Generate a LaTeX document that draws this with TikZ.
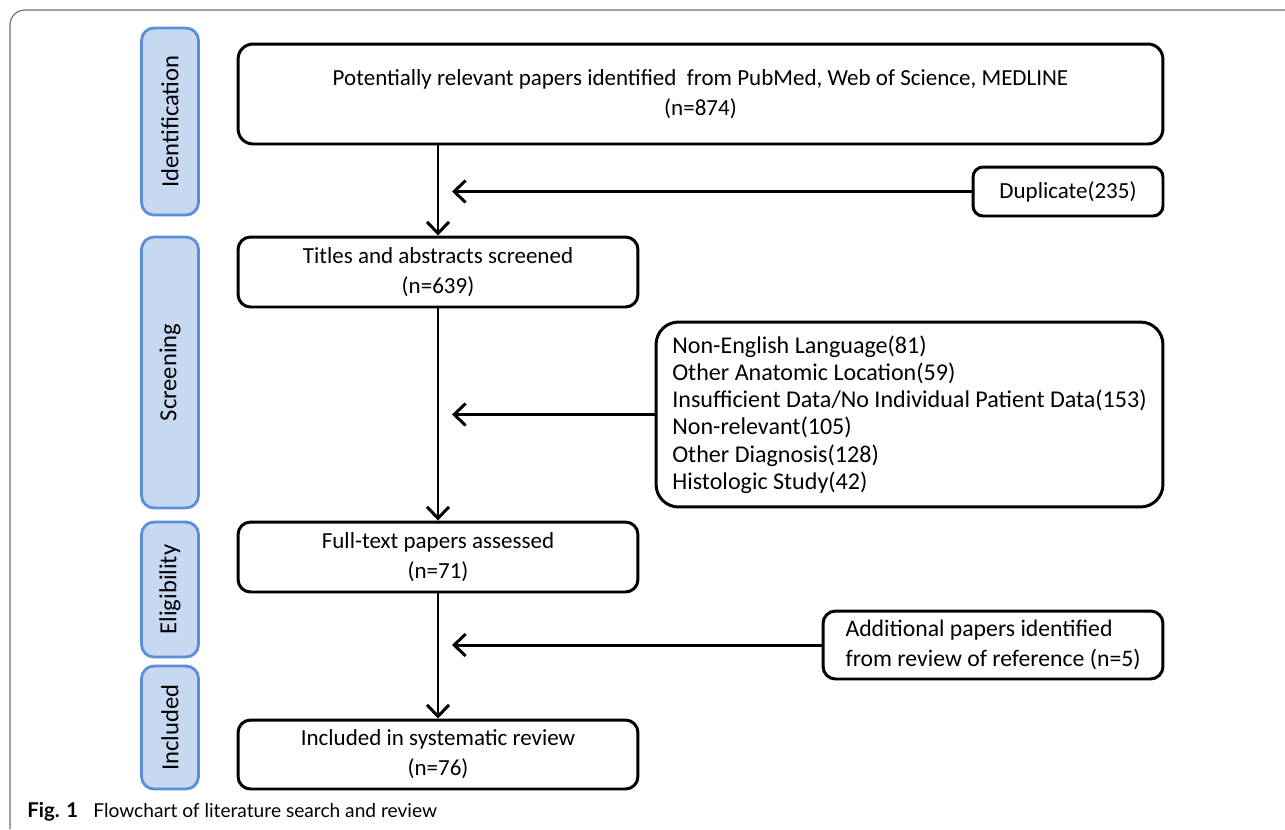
\documentclass[tikz,border=0pt]{standalone}
\usepackage{fontspec}
\setmainfont{Carlito}
\newfontfamily\capfont{Lato}
\usetikzlibrary{arrows.meta, positioning}
\definecolor{stagefill}{HTML}{C6D9F1}
\definecolor{stagedraw}{HTML}{5B8FD7}
\definecolor{framegray}{HTML}{707070}

\begin{document}
\begin{tikzpicture}[
    x=0.02cm, y=-0.02cm,
    every node/.style={font=\fontsize{13.1}{17}\selectfont},
    box/.style={
        rectangle,
        rounded corners=0.3cm,
        draw=black,
        fill=white,
        line width=1.7pt,
        align=center,
        inner sep=0pt
    },
    stage/.style={
        rectangle,
        rounded corners=0.25cm,
        draw=stagedraw,
        fill=stagefill,
        line width=1.6pt,
        minimum height=1.14cm,
        rotate=90,
        font=\fontsize{14}{16}\selectfont
    },
    arrow/.style={-{Straight Barb[length=2.3mm,width=4.4mm]}, line width=1.7pt}
]
\useasboundingbox (0,0) rectangle (1285,829);
\draw[framegray, line width=0.7pt, rounded corners=0.3cm] (1285,10) -- (10,10) -- (10,829);

% STAGES
\node[stage, minimum width=3.74cm] (ident) at (170,121.5) {Identification};
\node[stage, minimum width=5.42cm] (scr) at (170,372.5) {Screening};
\node[stage, minimum width=2.7cm] (elig) at (170,589.5) {Eligibility};
\node[stage, minimum width=2.46cm] (incl) at (170,727.5) {Included};

% BOXES
\node[box, minimum width=18.5cm, minimum height=2cm] (found) at (700.5,94) {Potentially relevant papers identified\ \ from PubMed, Web of Science, MEDLINE\\(n=874)};
\node[box, rounded corners=0.2cm, minimum width=3.8cm, minimum height=0.98cm] (dup) at (1068,191.5) {Duplicate(235)};
\node[box, rounded corners=0.25cm, minimum width=8cm, minimum height=1.4cm] (screen) at (438,272) {Titles and abstracts screened\\(n=639)};
\node[box, rounded corners=0.45cm, minimum width=10.14cm, minimum height=3.7cm, align=left, font=\fontsize{13.7}{15.5}\selectfont] (excl) at (909.5,414.5) {Non-English Language(81)\\Other Anatomic Location(59)\\Insufficient Data/No Individual Patient Data(153)\\Non-relevant(105)\\Other Diagnosis(128)\\Histologic Study(42)};
\node[box, rounded corners=0.25cm, minimum width=8cm, minimum height=1.4cm] (full) at (438,557) {Full-text papers assessed\\(n=71)};
\node[box, rounded corners=0.25cm, minimum width=6.8cm, minimum height=1.36cm, align=left, font=\fontsize{13.5}{17}\selectfont] (addl) at (993,645) {Additional papers identified\\from review of reference (n=5)};
\node[box, rounded corners=0.25cm, minimum width=8cm, minimum height=1.38cm] (final) at (438,754.5) {Included in systematic review\\(n=76)};

\node[anchor=base west, inner sep=0pt, font=\capfont\fontsize{10.9}{14}\selectfont] (caption) at (27,817) {\textbf{\fontsize{11.6}{14}\selectfont Fig. 1}\hspace{0.8em}Flowchart of literature search and review};

% ARROWS
\draw[arrow] (screen.north |- found.south) -- (screen.north);
\draw[arrow] (screen) -- (full);
\draw[arrow] (full) -- (final);
\coordinate (m1) at ([xshift=0.28cm]screen.north |- dup.west);
\coordinate (m2) at ([xshift=0.28cm]screen.north |- excl.west);
\coordinate (m3) at ([xshift=0.28cm]screen.north |- addl.west);
\draw[arrow] (dup.west) -- (m1);
\draw[arrow] (excl.west) -- (m2);
\draw[arrow] (addl.west) -- (m3);

\end{tikzpicture}
\end{document}
